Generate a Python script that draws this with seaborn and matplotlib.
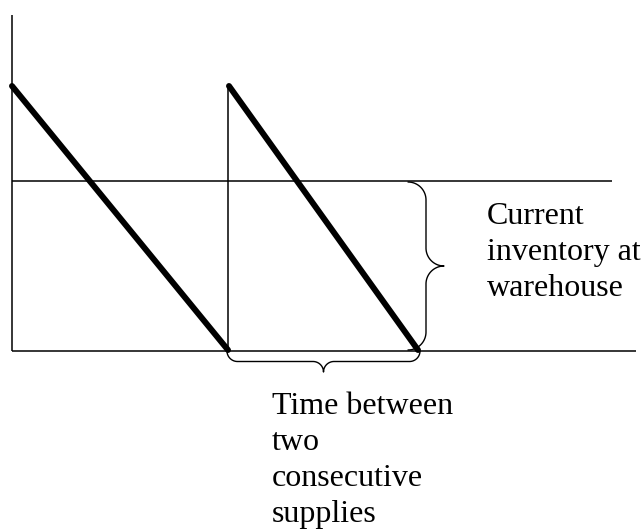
import numpy as np
import pandas as pd
import matplotlib
matplotlib.use("Agg")
import matplotlib.pyplot as plt
import seaborn as sns

# Sawtooth inventory diagram (time units ~ pixels from the origin)
cycle_ids = [1, 1, 2, 2]
cycle_time = [0, 216, 217, 406]
cycle_inventory = [265, 1, 265, 1]

supply_time = [216, 216]
supply_inventory = [0, 265]

current_level = 170
level_span = [0, 600]
baseline_span = [0, 624]
axis_height = [0, 336]

right_label = "Current\ninventory at\nwarehouse"
bottom_label = "Time between\ntwo\nconsecutive\nsupplies"


def brace_vertical(x0, y_top, y_bot, r):
    """Right-pointing curly brace, hooks starting at x0."""
    ymid = (y_top + y_bot) / 2
    t = np.linspace(0, np.pi / 2, 30)
    # top hook
    xs = list(x0 + r * np.sin(t))
    ys = list(y_top - r + r * np.cos(t))
    # down to tip
    xs += list(x0 + 2 * r - r * np.cos(t))
    ys += list(ymid + r - r * np.sin(t))
    # back from tip
    xs += list(x0 + 2 * r - r * np.cos(t[::-1]))
    ys += list(ymid - r + r * np.sin(t[::-1]))
    # bottom hook
    xs += list(x0 + r * np.sin(t[::-1]))
    ys += list(y_bot + r - r * np.cos(t[::-1]))
    return xs, ys


def brace_horizontal(x_left, x_right, y0, r):
    """Downward-pointing curly brace, hooks starting at y0."""
    xmid = (x_left + x_right) / 2
    t = np.linspace(0, np.pi / 2, 30)
    xs = list(x_left + r - r * np.cos(t))
    ys = list(y0 - r * np.sin(t))
    xs += list(xmid - r + r * np.sin(t))
    ys += list(y0 - 2 * r + r * np.cos(t))
    xs += list(xmid + r - r * np.sin(t[::-1]))
    ys += list(y0 - 2 * r + r * np.cos(t[::-1]))
    xs += list(x_right - r + r * np.cos(t[::-1]))
    ys += list(y0 - r * np.sin(t[::-1]))
    return xs, ys


sns.set_theme(style="white")
plt.rcParams["font.family"] = ["Liberation Serif", "DejaVu Serif"]

fig = plt.figure(figsize=(6.44, 5.30), dpi=100)
ax = fig.add_axes([0, 0, 1, 1])
ax.set_xlim(-12, 632)
ax.set_ylim(-179, 351)
ax.axis("off")

thin = dict(color="black", lw=1.1, solid_capstyle="butt")

# axes of the diagram
ax.plot([0, 0], axis_height, **thin)
ax.plot(baseline_span, [0, 0], **thin)
ax.plot(level_span, [current_level, current_level], **thin)
ax.plot(supply_time, supply_inventory, **thin)

df = pd.DataFrame({"time": cycle_time, "inventory": cycle_inventory, "cycle": cycle_ids})
sns.lineplot(data=df, x="time", y="inventory", units="cycle", estimator=None,
             sort=False, color="black", lw=4.3, ax=ax, legend=False)

bx, by = brace_vertical(396, current_level - 1, 1, 18)
ax.plot(bx, by, color="black", lw=1.0)
hx, hy = brace_horizontal(215, 408, 0, 10.5)
ax.plot(hx, hy, color="black", lw=1.0)

ax.text(475, 149, right_label, fontsize=23, va="top", ha="left",
        linespacing=1.32, color="black")
ax.text(260, -41, bottom_label, fontsize=23, va="top", ha="left",
        linespacing=1.32, color="black")

fig.savefig("out.png", dpi=100)
